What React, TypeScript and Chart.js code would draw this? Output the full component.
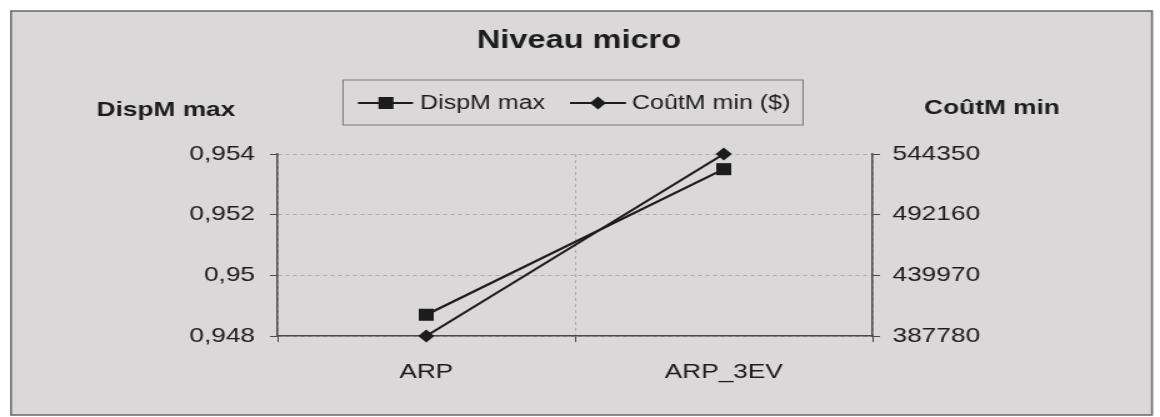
import React, { useEffect, useRef } from 'react';
import { Chart, registerables } from 'chart.js';

Chart.register(...registerables);

// ---- data ----
const categories = ['ARP', 'ARP_3EV'];
const dispMMax = [0.9487, 0.9535];
const coutMMin = [387780, 544350];
const leftTickValues = [0.948, 0.95, 0.952, 0.954];
const leftTickLabels = ['0,948', '0,95', '0,952', '0,954'];
const rightTickValues = [387780, 439970, 492160, 544350];
const rightTickLabels = ['387780', '439970', '492160', '544350'];
const titleText = 'Niveau micro';
const seriesNames = ['DispM max', 'CoûtM min ($)'];
const leftAxisTitle = 'DispM max';
const rightAxisTitle = 'CoûtM min';

// ---- layout (the scan is horizontally stretched, so draw narrow and stretch) ----
const W = 1160;
const H = 417;
const SX = 1.25;
const CW = Math.round(W / SX);
const FONT = '"Liberation Sans", Arial, sans-serif';
const BG = '#dbd8d9';
const INK = '#1c1c1c';
const AXIS = '#4a4a4a';
const GRID = '#ababab';

const decor = {
  id: 'decor',
  beforeDraw(chart: any) {
    const ctx = chart.ctx;
    ctx.save();
    ctx.fillStyle = '#ffffff';
    ctx.fillRect(0, 0, chart.width, chart.height);
    const x0 = 11 / SX, x1 = 1152 / SX, y0 = 11, y1 = 415;
    ctx.fillStyle = BG;
    ctx.fillRect(x0, y0, x1 - x0, y1 - y0);
    ctx.strokeStyle = '#6e6e6e';
    ctx.lineWidth = 1.6;
    ctx.strokeRect(x0, y0, x1 - x0, y1 - y0);
    ctx.restore();
  },
  afterDraw(chart: any) {
    const ctx = chart.ctx;
    ctx.save();
    ctx.fillStyle = INK;
    ctx.textBaseline = 'middle';
    // title
    ctx.textAlign = 'center';
    ctx.font = `bold 26px ${FONT}`;
    ctx.fillText(titleText, 579 / SX, 41);
    // axis titles
    ctx.font = `bold 21px ${FONT}`;
    ctx.fillText(leftAxisTitle, 166 / SX, 110);
    ctx.fillText(rightAxisTitle, 992 / SX, 108);
    // legend box
    const lx0 = 343 / SX, lx1 = 803 / SX, ly0 = 80, ly1 = 125;
    ctx.strokeStyle = '#7a7a7a';
    ctx.lineWidth = 1;
    ctx.strokeRect(lx0, ly0, lx1 - lx0, ly1 - ly0);
    const ly = 103;
    ctx.strokeStyle = INK;
    ctx.lineWidth = 2;
    // item 1
    ctx.beginPath();
    ctx.moveTo(358 / SX, ly);
    ctx.lineTo(413 / SX, ly);
    ctx.stroke();
    const c1 = 386 / SX;
    ctx.fillRect(c1 - 6, ly - 6, 12, 12);
    // item 2
    ctx.beginPath();
    ctx.moveTo(570 / SX, ly);
    ctx.lineTo(626 / SX, ly);
    ctx.stroke();
    const c2 = 598 / SX;
    const r = 6.5;
    ctx.beginPath();
    ctx.moveTo(c2 - r, ly);
    ctx.lineTo(c2, ly - r);
    ctx.lineTo(c2 + r, ly);
    ctx.lineTo(c2, ly + r);
    ctx.closePath();
    ctx.fill();
    ctx.textAlign = 'left';
    ctx.font = `20px ${FONT}`;
    ctx.fillText(seriesNames[0], 420 / SX, ly);
    ctx.fillText(seriesNames[1], 632 / SX, ly);
    ctx.restore();
  },
};

export default function App() {
  const ref = useRef<HTMLCanvasElement | null>(null);

  useEffect(() => {
    document.body.style.margin = '0';
    const canvas = ref.current;
    if (!canvas) return;
    const tickFont = { family: FONT, size: 21 };
    const chart = new Chart(canvas, {
      type: 'line',
      data: {
        labels: categories,
        datasets: [
          {
            label: seriesNames[0],
            data: dispMMax,
            yAxisID: 'y',
            borderColor: INK,
            backgroundColor: INK,
            borderWidth: 2.2,
            pointStyle: 'rect',
            pointRadius: 8.5,
            pointBackgroundColor: INK,
            pointBorderColor: INK,
            pointBorderWidth: 0,
            tension: 0,
            clip: false,
          },
          {
            label: seriesNames[1],
            data: coutMMin,
            yAxisID: 'y2',
            borderColor: INK,
            backgroundColor: INK,
            borderWidth: 2.2,
            pointStyle: 'rectRot',
            pointRadius: 6.5,
            pointBackgroundColor: INK,
            pointBorderColor: INK,
            pointBorderWidth: 0,
            tension: 0,
            clip: false,
          },
        ],
      },
      options: {
        responsive: false,
        animation: false,
        devicePixelRatio: 1,
        events: [],
        layout: { padding: { top: 154, left: 0, right: 0, bottom: 0 } },
        plugins: {
          legend: { display: false },
          title: { display: false },
          tooltip: { enabled: false },
        },
        scales: {
          x: {
            type: 'category',
            offset: true,
            grid: {
              display: true,
              offset: true,
              color: GRID,
              lineWidth: 1,
              drawTicks: true,
              tickLength: 6,
              tickColor: AXIS,
              tickWidth: 1,
            },
            border: { display: true, color: AXIS, width: 1.5, dash: [3, 3] },
            ticks: {
              color: INK,
              font: tickFont,
              padding: 18,
              maxRotation: 0,
              autoSkip: false,
            },
            afterFit: (s: any) => {
              s.height = 81;
            },
          },
          y: {
            type: 'linear',
            position: 'left',
            min: leftTickValues[0],
            max: leftTickValues[leftTickValues.length - 1],
            afterBuildTicks: (s: any) => {
              s.ticks = leftTickValues.map((v) => ({ value: v }));
            },
            ticks: {
              color: INK,
              font: tickFont,
              padding: 12,
              callback: (_v: any, i: number) => leftTickLabels[i],
            },
            grid: {
              color: GRID,
              lineWidth: 1,
              tickLength: 6,
              tickColor: AXIS,
              tickWidth: 1,
            },
            border: { display: true, color: AXIS, width: 1.5, dash: [3, 3] },
            afterFit: (s: any) => {
              s.width = 222;
            },
          },
          y2: {
            type: 'linear',
            position: 'right',
            min: rightTickValues[0],
            max: rightTickValues[rightTickValues.length - 1],
            afterBuildTicks: (s: any) => {
              s.ticks = rightTickValues.map((v) => ({ value: v }));
            },
            ticks: {
              color: INK,
              font: tickFont,
              padding: 10,
              callback: (_v: any, i: number) => rightTickLabels[i],
            },
            grid: {
              drawOnChartArea: false,
              tickLength: 6,
              tickColor: AXIS,
              tickWidth: 1,
            },
            border: { display: true, color: AXIS, width: 1.5 },
            afterFit: (s: any) => {
              s.width = CW - 698;
            },
          },
        },
      } as any,
      plugins: [decor],
    });
    return () => chart.destroy();
  }, []);

  return (
    <div style={{ position: 'absolute', left: 0, top: 0, width: W, height: H }}>
      <canvas
        ref={ref}
        width={CW}
        height={H}
        style={{ width: `${W}px`, height: `${H}px`, display: 'block' }}
      />
    </div>
  );
}
